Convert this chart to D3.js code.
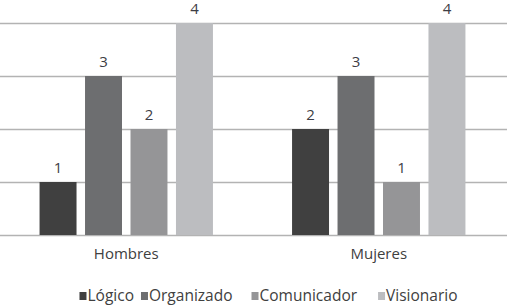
<!DOCTYPE html>
<html>
<head>
<meta charset="utf-8">
<script src="https://cdn.jsdelivr.net/npm/d3@7"></script>
<style>
  body { margin: 0; background: #fff; }
  svg text { font-family: "Open Sans", sans-serif; }
</style>
</head>
<body>
<svg id="drawing_region"></svg>
<script>
const groups = ["Hombres", "Mujeres"];
const series = ["Lógico", "Organizado", "Comunicador", "Visionario"];
const hombres = [1, 3, 2, 4];
const mujeres = [2, 3, 1, 4];
const yticks = [0, 1, 2, 3, 4];
const colors = ["#404040", "#6d6e70", "#959597", "#bcbdc0"];

const data = groups.map((g, i) => ({
    group: g,
    values: series.map((s, j) => ({ key: s, value: [hombres, mujeres][i][j] }))
}));

const config = {
    width: 508,
    height: 307,
    margin: {top: 23, right: 1, bottom: 72, left: 0}
};

const svg = d3.select('#drawing_region')
    .attr('width', config.width)
    .attr('height', config.height);

const inner_width = config.width - config.margin.left - config.margin.right;
const inner_height = config.height - config.margin.top - config.margin.bottom;

const chart = svg.append('g')
    .attr('transform', `translate(${config.margin.left}, ${config.margin.top})`);

const xscale = d3.scaleBand()
    .domain(groups)
    .range([0, inner_width - 2]);

const xinner = d3.scaleBand()
    .domain(series)
    .range([0, xscale.bandwidth()])
    .paddingInner(0.187)
    .paddingOuter(0.87);

const yscale = d3.scaleLinear()
    .domain([0, 4])
    .range([inner_height, 0]);

const color = d3.scaleOrdinal().domain(series).range(colors);

// gridlines
const yaxis = d3.axisLeft(yscale)
    .tickValues(yticks)
    .tickSize(-inner_width)
    .tickFormat('');

chart.append('g')
    .call(yaxis)
    .call(g => g.select('.domain').remove())
    .call(g => g.selectAll('.tick line')
        .attr('stroke', '#b3b3b3')
        .attr('stroke-width', 1.5));

// bars
const groupG = chart.selectAll('.grp')
    .data(data)
    .enter()
    .append('g')
    .attr('class', 'grp')
    .attr('transform', d => `translate(${xscale(d.group)}, 0)`);

groupG.selectAll('rect')
    .data(d => d.values)
    .enter()
    .append('rect')
    .attr('x', d => xinner(d.key))
    .attr('y', d => yscale(d.value))
    .attr('width', xinner.bandwidth())
    .attr('height', d => yscale(0) - yscale(d.value))
    .attr('fill', d => color(d.key));

groupG.selectAll('text')
    .data(d => d.values)
    .enter()
    .append('text')
    .attr('x', d => xinner(d.key) + xinner.bandwidth() / 2)
    .attr('y', d => yscale(d.value) - 9)
    .attr('text-anchor', 'middle')
    .attr('font-size', '15px')
    .attr('fill', '#3d3d45')
    .text(d => d3.format('d')(d.value));

// x axis labels
const xaxis = d3.axisBottom(xscale).tickSize(0).tickPadding(13);
chart.append('g')
    .attr('transform', `translate(0, ${inner_height})`)
    .call(xaxis)
    .call(g => g.select('.domain').remove())
    .call(g => g.selectAll('text')
        .attr('font-size', '15px')
        .attr('font-family', '"Open Sans", sans-serif')
        .attr('fill', '#404040'));

// legend
const legend = svg.append('g');
const items = legend.selectAll('g')
    .data(series)
    .enter()
    .append('g');

items.append('rect')
    .attr('width', 7)
    .attr('height', 8)
    .attr('y', -9)
    .attr('fill', d => color(d));

items.append('text')
    .attr('x', 8)
    .attr('font-size', '15.5px')
    .attr('fill', '#404040')
    .text(d => d);

let xpos = 0;
const gaps = [7, 19, 21];
items.each(function(d, i) {
    d3.select(this).attr('transform', `translate(${xpos}, 0)`);
    const w = d3.select(this).select('text').node().getComputedTextLength();
    xpos += 8 + w + (gaps[i] || 0);
});
legend.attr('transform', `translate(${268.5 - xpos / 2}, 301)`);
</script>
</body>
</html>
